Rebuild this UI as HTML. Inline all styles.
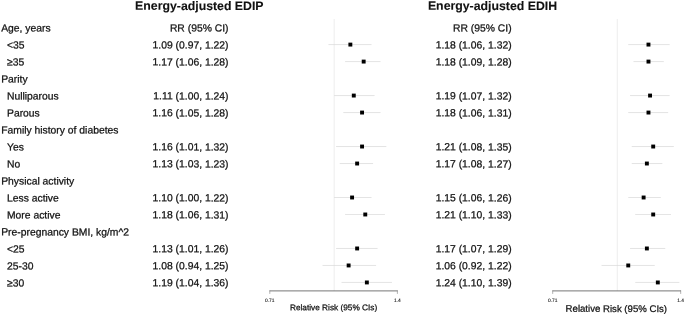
<!DOCTYPE html>
<html><head><meta charset="utf-8"><title>Forest plot</title>
<style>
html,body{margin:0;padding:0;background:#fff;}
body{width:685px;height:315px;overflow:hidden;position:relative;}
svg{position:absolute;left:0;top:0;display:block;}
text{font-family:"Liberation Sans",Arial,sans-serif;fill:#111;font-size:10.35px;text-rendering:geometricPrecision;stroke:#111;stroke-width:0.25px;}
.h{font-weight:bold;font-size:12.3px;fill:#111;text-anchor:middle;stroke-width:0.1px;}
.r{text-anchor:end;}
.a1{font-size:8.28px;text-anchor:middle;}
.a2{font-size:9.62px;text-anchor:middle;}
.k{font-size:4.85px;text-anchor:middle;stroke-width:0.1px;}
</style></head><body>

<svg width="685" height="315" viewBox="0 0 685 315">
<line x1="334.17" y1="19" x2="334.17" y2="290.9" stroke="#dcdcdc" stroke-width="0.55"/>
<line x1="328.44" y1="44.59" x2="371.54" y2="44.59" stroke="#d9d9d9" stroke-width="0.7"/>
<rect x="348.41" y="42.64" width="3.9" height="3.9" fill="#000"/>
<line x1="345.12" y1="61.58" x2="380.56" y2="61.58" stroke="#d9d9d9" stroke-width="0.7"/>
<rect x="361.72" y="59.63" width="3.9" height="3.9" fill="#000"/>
<line x1="334.17" y1="95.56" x2="374.59" y2="95.56" stroke="#d9d9d9" stroke-width="0.7"/>
<rect x="351.83" y="93.61" width="3.9" height="3.9" fill="#000"/>
<line x1="343.33" y1="112.55" x2="380.56" y2="112.55" stroke="#d9d9d9" stroke-width="0.7"/>
<rect x="360.11" y="110.60" width="3.9" height="3.9" fill="#000"/>
<line x1="336.04" y1="146.53" x2="386.34" y2="146.53" stroke="#d9d9d9" stroke-width="0.7"/>
<rect x="360.11" y="144.58" width="3.9" height="3.9" fill="#000"/>
<line x1="339.72" y1="163.52" x2="373.07" y2="163.52" stroke="#d9d9d9" stroke-width="0.7"/>
<rect x="355.18" y="161.57" width="3.9" height="3.9" fill="#000"/>
<line x1="334.17" y1="197.50" x2="371.54" y2="197.50" stroke="#d9d9d9" stroke-width="0.7"/>
<rect x="350.13" y="195.55" width="3.9" height="3.9" fill="#000"/>
<line x1="345.12" y1="214.49" x2="384.91" y2="214.49" stroke="#d9d9d9" stroke-width="0.7"/>
<rect x="363.32" y="212.54" width="3.9" height="3.9" fill="#000"/>
<line x1="336.04" y1="248.47" x2="377.60" y2="248.47" stroke="#d9d9d9" stroke-width="0.7"/>
<rect x="355.18" y="246.52" width="3.9" height="3.9" fill="#000"/>
<line x1="322.54" y1="265.46" x2="376.10" y2="265.46" stroke="#d9d9d9" stroke-width="0.7"/>
<rect x="346.68" y="263.51" width="3.9" height="3.9" fill="#000"/>
<line x1="341.54" y1="282.45" x2="391.95" y2="282.45" stroke="#d9d9d9" stroke-width="0.7"/>
<rect x="364.91" y="280.50" width="3.9" height="3.9" fill="#000"/>
<path d="M269.48 290.9H397.72" fill="none" stroke="#666" stroke-width="0.9"/>
<path d="M269.8 290.45V293.9M397.4 290.45V293.9" fill="none" stroke="#8a8a8a" stroke-width="0.65"/>
<line x1="617.27" y1="19" x2="617.27" y2="290.9" stroke="#dcdcdc" stroke-width="0.55"/>
<line x1="628.25" y1="44.59" x2="669.61" y2="44.59" stroke="#d9d9d9" stroke-width="0.7"/>
<rect x="646.52" y="42.64" width="3.9" height="3.9" fill="#000"/>
<line x1="633.51" y1="61.58" x2="663.81" y2="61.58" stroke="#d9d9d9" stroke-width="0.7"/>
<rect x="646.52" y="59.63" width="3.9" height="3.9" fill="#000"/>
<line x1="630.02" y1="95.56" x2="669.61" y2="95.56" stroke="#d9d9d9" stroke-width="0.7"/>
<rect x="648.11" y="93.61" width="3.9" height="3.9" fill="#000"/>
<line x1="628.25" y1="112.55" x2="668.17" y2="112.55" stroke="#d9d9d9" stroke-width="0.7"/>
<rect x="646.52" y="110.60" width="3.9" height="3.9" fill="#000"/>
<line x1="631.78" y1="146.53" x2="673.84" y2="146.53" stroke="#d9d9d9" stroke-width="0.7"/>
<rect x="651.25" y="144.58" width="3.9" height="3.9" fill="#000"/>
<line x1="631.78" y1="163.52" x2="662.33" y2="163.52" stroke="#d9d9d9" stroke-width="0.7"/>
<rect x="644.92" y="161.57" width="3.9" height="3.9" fill="#000"/>
<line x1="628.25" y1="197.50" x2="660.84" y2="197.50" stroke="#d9d9d9" stroke-width="0.7"/>
<rect x="641.67" y="195.55" width="3.9" height="3.9" fill="#000"/>
<line x1="635.24" y1="214.49" x2="671.03" y2="214.49" stroke="#d9d9d9" stroke-width="0.7"/>
<rect x="651.25" y="212.54" width="3.9" height="3.9" fill="#000"/>
<line x1="630.02" y1="248.47" x2="665.27" y2="248.47" stroke="#d9d9d9" stroke-width="0.7"/>
<rect x="644.92" y="246.52" width="3.9" height="3.9" fill="#000"/>
<line x1="601.55" y1="265.46" x2="654.76" y2="265.46" stroke="#d9d9d9" stroke-width="0.7"/>
<rect x="626.30" y="263.51" width="3.9" height="3.9" fill="#000"/>
<line x1="635.24" y1="282.45" x2="679.35" y2="282.45" stroke="#d9d9d9" stroke-width="0.7"/>
<rect x="655.87" y="280.50" width="3.9" height="3.9" fill="#000"/>
<path d="M552.38 290.9H681.03" fill="none" stroke="#666" stroke-width="0.9"/>
<path d="M552.7 290.45V293.9M680.7 290.45V293.9" fill="none" stroke="#8a8a8a" stroke-width="0.65"/>
<text class="h" x="199.35" y="9.9" transform="rotate(0.05 199.35 9.9)">Energy-adjusted EDIP</text>
<text class="h" x="492.5" y="9.9" transform="rotate(0.05 492.5 9.9)">Energy-adjusted EDIH</text>
<text x="1.2" y="31.45" transform="rotate(0.05 1.2 31.45)">Age, years</text>
<text class="r" x="228.5" y="31.45" transform="rotate(0.05 228.5 31.45)">RR (95% CI)</text>
<text class="r" x="511.6" y="31.45" transform="rotate(0.05 511.6 31.45)">RR (95% CI)</text>
<text x="7" y="48.45" transform="rotate(0.05 7 48.45)">&lt;35</text>
<text class="r" x="228.5" y="48.45" transform="rotate(0.05 228.5 48.45)">1.09 (0.97, 1.22)</text>
<text class="r" x="511.6" y="48.45" transform="rotate(0.05 511.6 48.45)">1.18 (1.06, 1.32)</text>
<text x="7" y="65.44" transform="rotate(0.05 7 65.44)">≥35</text>
<text class="r" x="228.5" y="65.44" transform="rotate(0.05 228.5 65.44)">1.17 (1.06, 1.28)</text>
<text class="r" x="511.6" y="65.44" transform="rotate(0.05 511.6 65.44)">1.18 (1.09, 1.28)</text>
<text x="1.2" y="82.44" transform="rotate(0.05 1.2 82.44)">Parity</text>
<text x="7" y="99.43" transform="rotate(0.05 7 99.43)">Nulliparous</text>
<text class="r" x="228.5" y="99.43" transform="rotate(0.05 228.5 99.43)">1.11 (1.00, 1.24)</text>
<text class="r" x="511.6" y="99.43" transform="rotate(0.05 511.6 99.43)">1.19 (1.07, 1.32)</text>
<text x="7" y="116.43" transform="rotate(0.05 7 116.43)">Parous</text>
<text class="r" x="228.5" y="116.43" transform="rotate(0.05 228.5 116.43)">1.16 (1.05, 1.28)</text>
<text class="r" x="511.6" y="116.43" transform="rotate(0.05 511.6 116.43)">1.18 (1.06, 1.31)</text>
<text x="1.2" y="133.42" transform="rotate(0.05 1.2 133.42)">Family history of diabetes</text>
<text x="7" y="150.41" transform="rotate(0.05 7 150.41)">Yes</text>
<text class="r" x="228.5" y="150.41" transform="rotate(0.05 228.5 150.41)">1.16 (1.01, 1.32)</text>
<text class="r" x="511.6" y="150.41" transform="rotate(0.05 511.6 150.41)">1.21 (1.08, 1.35)</text>
<text x="7" y="167.41" transform="rotate(0.05 7 167.41)">No</text>
<text class="r" x="228.5" y="167.41" transform="rotate(0.05 228.5 167.41)">1.13 (1.03, 1.23)</text>
<text class="r" x="511.6" y="167.41" transform="rotate(0.05 511.6 167.41)">1.17 (1.08, 1.27)</text>
<text x="1.2" y="184.41" transform="rotate(0.05 1.2 184.41)">Physical activity</text>
<text x="7" y="201.40" transform="rotate(0.05 7 201.40)">Less active</text>
<text class="r" x="228.5" y="201.40" transform="rotate(0.05 228.5 201.40)">1.10 (1.00, 1.22)</text>
<text class="r" x="511.6" y="201.40" transform="rotate(0.05 511.6 201.40)">1.15 (1.06, 1.26)</text>
<text x="7" y="218.40" transform="rotate(0.05 7 218.40)">More active</text>
<text class="r" x="228.5" y="218.40" transform="rotate(0.05 228.5 218.40)">1.18 (1.06, 1.31)</text>
<text class="r" x="511.6" y="218.40" transform="rotate(0.05 511.6 218.40)">1.21 (1.10, 1.33)</text>
<text x="1.2" y="235.39" transform="rotate(0.05 1.2 235.39)">Pre-pregnancy BMI, kg/m^2</text>
<text x="7" y="252.38" transform="rotate(0.05 7 252.38)">&lt;25</text>
<text class="r" x="228.5" y="252.38" transform="rotate(0.05 228.5 252.38)">1.13 (1.01, 1.26)</text>
<text class="r" x="511.6" y="252.38" transform="rotate(0.05 511.6 252.38)">1.17 (1.07, 1.29)</text>
<text x="7" y="269.38" transform="rotate(0.05 7 269.38)">25-30</text>
<text class="r" x="228.5" y="269.38" transform="rotate(0.05 228.5 269.38)">1.08 (0.94, 1.25)</text>
<text class="r" x="511.6" y="269.38" transform="rotate(0.05 511.6 269.38)">1.06 (0.92, 1.22)</text>
<text x="7" y="286.38" transform="rotate(0.05 7 286.38)">≥30</text>
<text class="r" x="228.5" y="286.38" transform="rotate(0.05 228.5 286.38)">1.19 (1.04, 1.36)</text>
<text class="r" x="511.6" y="286.38" transform="rotate(0.05 511.6 286.38)">1.24 (1.10, 1.39)</text>
<text class="a1" x="333.60" y="310.3" transform="rotate(0.05 333.60 310.3)">Relative Risk (95% CIs)</text>
<text class="k" x="269.8" y="301.9" transform="rotate(0.05 269.8 301.9)">0.71</text>
<text class="k" x="397.4" y="301.9" transform="rotate(0.05 397.4 301.9)">1.4</text>
<text class="a2" x="616.35" y="311.9" transform="rotate(0.05 616.35 311.9)">Relative Risk (95% CIs)</text>
<text class="k" x="552.7" y="301.9" transform="rotate(0.05 552.7 301.9)">0.71</text>
<text class="k" x="680.7" y="301.9" transform="rotate(0.05 680.7 301.9)">1.4</text>
</svg>
</body></html>
